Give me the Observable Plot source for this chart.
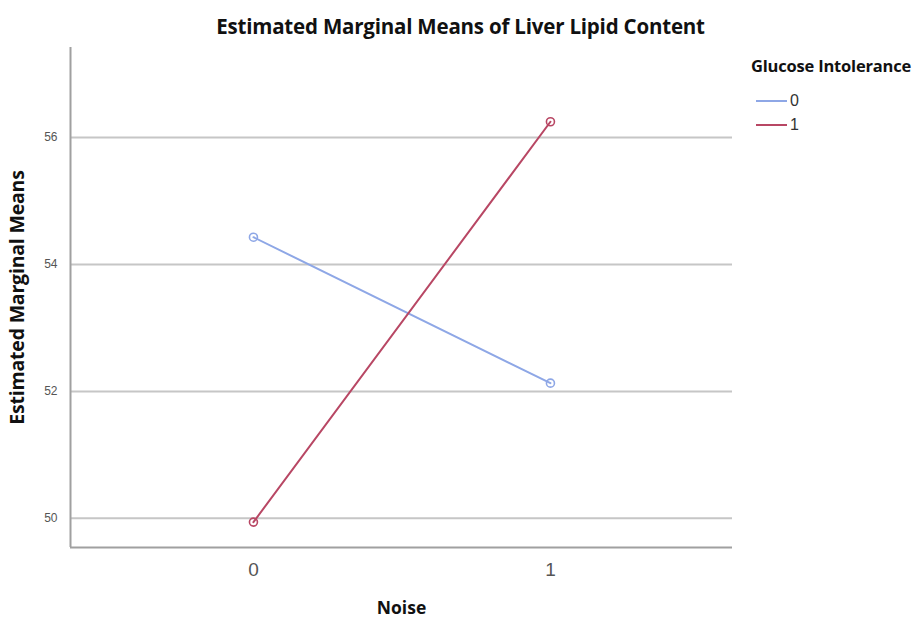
<!DOCTYPE html>
<html>
<head>
<meta charset="utf-8">
<script src="https://cdn.jsdelivr.net/npm/d3@7"></script>
<script src="https://cdn.jsdelivr.net/npm/@observablehq/plot@0.6"></script>
<style>
  html, body { margin: 0; padding: 0; background: #fff; }
  #wrap { position: relative; width: 921px; height: 621px; font-family: "Open Sans", sans-serif; }
  #title { position: absolute; left: 0; width: 921px; top: 12px; text-align: center; font-weight: bold; font-size: 20.5px; color: #111; letter-spacing: -0.2px; }
  #legend { position: absolute; left: 751px; top: 54px; font-size: 16.5px; color: #111; }
  #legend .lt { font-weight: bold; margin-bottom: 12px; letter-spacing: -0.2px; }
  #legend .item { display: flex; align-items: center; height: 24px; font-family: "Liberation Sans", sans-serif; font-size: 16px; color: #333; }
  #chart { position: absolute; left: 0; top: 0; }
</style>
</head>
<body>
<div id="wrap">
  <div id="chart"></div>
  <div id="title">Estimated Marginal Means of Liver Lipid Content</div>
  <div id="legend"></div>
</div>
<script>
const noise = [0, 1];
const groups = ["0", "1"];
const means0 = [54.43, 52.13];
const means1 = [49.94, 56.25];
const colors = ["#8ea7e6", "#b84764"];
const yTicks = [50, 52, 54, 56];
const xTicks = [0, 1];

const data = [];
noise.forEach((n, i) => {
  data.push({noise: n, group: groups[0], mean: means0[i]});
  data.push({noise: n, group: groups[1], mean: means1[i]});
});

const xDomain = [-0.616, 1.613];
const yDomain = [49.54, 57.42];

const plot = Plot.plot({
  width: 921,
  height: 621,
  marginLeft: 70,
  marginRight: 189,
  marginTop: 47,
  marginBottom: 74,
  style: {background: "transparent", fontFamily: "Liberation Sans, sans-serif"},
  x: {domain: xDomain},
  y: {domain: yDomain},
  color: {domain: groups, range: colors},
  marks: [
    Plot.ruleY(yTicks, {stroke: "#c6c6c6", strokeWidth: 2}),
    Plot.axisY({ticks: yTicks, tickSize: 0, tickPadding: 13, fontSize: 12, color: "#555", label: "Estimated Marginal Means", labelAnchor: "center", labelArrow: "none", labelOffset: 60}),
    Plot.axisX({ticks: xTicks, tickSize: 0, tickPadding: 15, fontSize: 19, color: "#555", tickFormat: d => String(d), label: "Noise", labelAnchor: "center", labelArrow: "none", labelOffset: 66}),
    Plot.ruleX([xDomain[0]], {stroke: "#a0a0a0", strokeWidth: 2}),
    Plot.ruleY([yDomain[0]], {stroke: "#a0a0a0", strokeWidth: 2}),
    Plot.line(data, {x: "noise", y: "mean", z: "group", stroke: "group", strokeWidth: 2}),
    Plot.dot(data, {x: "noise", y: "mean", stroke: "group", r: 4, strokeWidth: 1.6, fill: "none"})
  ]
});
document.getElementById("chart").appendChild(plot);

// style axis labels
plot.querySelectorAll("g[aria-label='y-axis label'] text").forEach(t => {
  t.setAttribute("font-weight", "bold");
  t.setAttribute("font-family", "Open Sans, sans-serif");
  t.setAttribute("font-size", "19.5");
  t.setAttribute("letter-spacing", "-0.2");
  t.setAttribute("fill", "#111");
});
plot.querySelectorAll("g[aria-label='x-axis label'] text").forEach(t => {
  t.setAttribute("font-weight", "bold");
  t.setAttribute("font-family", "Open Sans, sans-serif");
  t.setAttribute("font-size", "17.5");
  t.setAttribute("fill", "#111");
});

const leg = document.getElementById("legend");
const lt = document.createElement("div");
lt.className = "lt";
lt.textContent = "Glucose Intolerance";
leg.appendChild(lt);
groups.forEach((g, i) => {
  const item = document.createElement("div");
  item.className = "item";
  item.innerHTML = `<svg width="34" height="10" style="margin-left:5px"><line x1="0" x2="31" y1="5" y2="5" stroke="${colors[i]}" stroke-width="2"/></svg><span>${g}</span>`;
  leg.appendChild(item);
});
</script>
</body>
</html>
